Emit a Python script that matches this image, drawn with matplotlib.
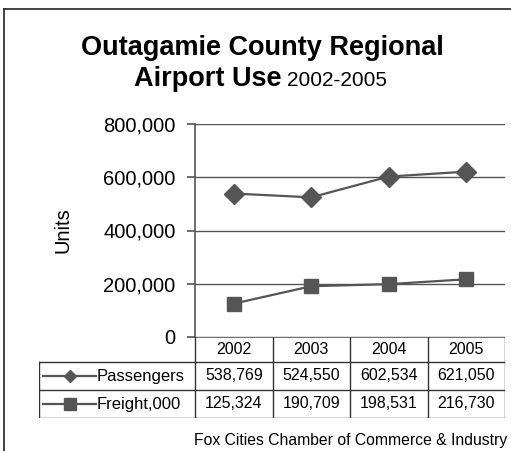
import matplotlib.pyplot as plt
from matplotlib.lines import Line2D

plt.rcParams['font.family'] = ['Liberation Sans', 'DejaVu Sans']

years = ['2002', '2003', '2004', '2005']
series = ['Passengers', 'Freight,000']
passengers = [538769, 524550, 602534, 621050]
freight = [125324, 190709, 198531, 216730]
markers = ['D', 's']
yticks = [0, 200000, 400000, 600000, 800000]

W, H = 511, 451
dark = '#555555'

fig = plt.figure(figsize=(W / 100, H / 100), dpi=100)

# outer frame (runs off the right and bottom edges)
fig.add_artist(Line2D([4 / W, 1.0], [1 - 9 / H, 1 - 9 / H], color='#222222', lw=1.2))
fig.add_artist(Line2D([4 / W, 4 / W], [0, 1 - 9 / H], color='#222222', lw=1.2))

fig.text(262 / W, 1 - 48 / H, 'Outagamie County Regional', ha='center', va='center',
         fontsize=19.5, fontweight='bold')
fig.text(282 / W, 1 - 79 / H, 'Airport Use', ha='right', va='center',
         fontsize=19.5, fontweight='bold')
fig.text(287 / W, 1 - 80 / H, '2002-2005', ha='left', va='center', fontsize=15)

x0, x1 = 195, 505
y_top, y_zero = 124, 337
ax = fig.add_axes([x0 / W, 1 - y_zero / H, (x1 - x0) / W, (y_zero - y_top) / H])
xs = [i + 0.5 for i in range(len(years))]
for vals, m in zip([passengers, freight], markers):
    ax.plot(xs, vals, color=dark, lw=1.6, marker=m,
            markersize=10, markerfacecolor=dark, markeredgecolor=dark)
ax.set_xlim(0, len(years))
ax.set_ylim(0, 800000)
ax.set_yticks(yticks)
ax.set_yticklabels([f'{v:,}' for v in yticks], fontsize=14.5)
ax.set_xticks([])
ax.grid(axis='y', color=dark, lw=1)
ax.set_axisbelow(True)
for s in ['top', 'right', 'bottom']:
    ax.spines[s].set_visible(False)
ax.spines['left'].set_color(dark)
ax.spines['left'].set_linewidth(1.2)
ax.tick_params(axis='y', direction='out', length=6, color=dark, width=1.2, pad=8)
ax.set_ylabel('Units', fontsize=14.5, labelpad=22)

# data table under the chart
col_w = (x1 - x0) / len(years)
lab_left = 39
row_edges = [337, 362, 390, 418]
tax = fig.add_axes([lab_left / W, 1 - row_edges[-1] / H,
                    (x1 - lab_left) / W, (row_edges[-1] - row_edges[0]) / H])
xmin = (lab_left - x0) / col_w
tax.set_xlim(xmin, len(years))
tax.set_ylim(row_edges[-1], row_edges[0])
tax.axis('off')
lc = '#333333'
tax.plot([0, len(years)], [row_edges[0]] * 2, color=dark, lw=1.2)
for y in row_edges[1:]:
    tax.plot([xmin, len(years)], [y, y], color=lc, lw=1)
for i in range(len(years) + 1):
    tax.plot([i, i], [row_edges[0], row_edges[-1]], color=lc, lw=1)
tax.plot([xmin, xmin], [row_edges[1], row_edges[-1]], color=lc, lw=1)
for i, yr in enumerate(years):
    tax.text(i + 0.5, (row_edges[0] + row_edges[1]) / 2, yr, ha='center', va='center', fontsize=11.5)
for r, (name, vals, m) in enumerate(zip(series, [passengers, freight], markers)):
    yc = (row_edges[r + 1] + row_edges[r + 2]) / 2
    for i, v in enumerate(vals):
        tax.text(i + 0.5, yc, f'{v:,}', ha='center', va='center', fontsize=11.5)
    lx0 = xmin + 4 / col_w
    lx1 = xmin + 57 / col_w
    tax.plot([lx0, lx1], [yc, yc], color=dark, lw=1.6)
    tax.plot([(lx0 + lx1) / 2], [yc], marker=m, color=dark,
             markersize=6.5 if m == 'D' else 9)
    tax.text(lx1 + 1 / col_w, yc, name, ha='left', va='center', fontsize=12)

# source line, runs past the right edge
fig.text(194 / W, 1 - 440 / H, 'Fox Cities Chamber of Commerce & Industry',
         ha='left', va='center', fontsize=11.3)

fig.savefig('out.png', dpi=100)
